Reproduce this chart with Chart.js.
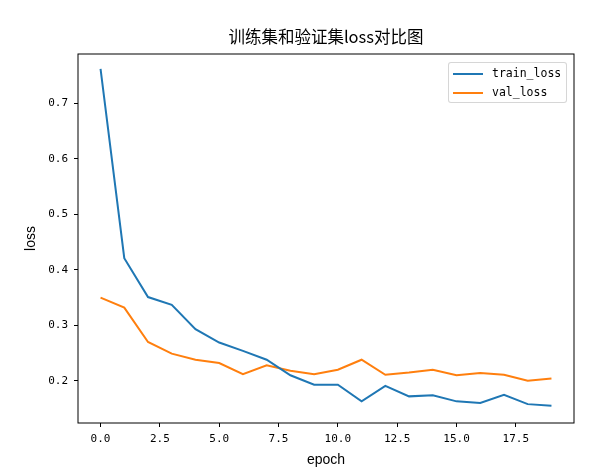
<!DOCTYPE html>
<html>
<head>
<meta charset="utf-8">
<script src="https://cdn.jsdelivr.net/npm/chart.js@4"></script>
<style>
  body { margin: 0; background: #fff; }
  #wrap { position: relative; width: 602px; height: 469px; }
  #legend {
    position: absolute; left: 448px; top: 62px; width: 117px; height: 39px;
    border: 1px solid rgba(204,204,204,0.8); border-radius: 3px;
    background: rgba(255,255,255,0.8);
    font-family: "DejaVu Sans Mono", monospace; font-size: 11.5px; color: #000;
  }
  .item { position: absolute; left: 4px; height: 19px; line-height: 19px; white-space: nowrap; }
  .item span.swatch { position: absolute; left: 0; top: 9px; width: 30px; height: 2px; }
  .item span.label { position: absolute; left: 39px; top: 0; }
</style>
</head>
<body>
<div id="wrap">
  <canvas id="grafico" width="602" height="469"></canvas>
  <div id="legend"></div>
</div>
<script>
// ========================
// DADOS
// ========================

const epochs = [0, 1, 2, 3, 4, 5, 6, 7, 8, 9, 10, 11, 12, 13, 14, 15, 16, 17, 18, 19];

const trainLoss = [0.762, 0.421, 0.351, 0.337, 0.293, 0.269, 0.254, 0.238, 0.210, 0.193,
  0.193, 0.163, 0.191, 0.172, 0.174, 0.163, 0.160, 0.175, 0.158, 0.155];

const valLoss = [0.350, 0.332, 0.270, 0.249, 0.238, 0.232, 0.212, 0.228, 0.218, 0.212,
  0.220, 0.238, 0.211, 0.215, 0.220, 0.210, 0.214, 0.211, 0.200, 0.204];

const xTicks = [0, 2.5, 5, 7.5, 10, 12.5, 15, 17.5];
const yTicks = [0.2, 0.3, 0.4, 0.5, 0.6, 0.7];

const seriesNames = ["train_loss", "val_loss"];
const seriesColors = ["#1f77b4", "#ff7f0e"];

const titulo = "训练集和验证集loss对比图";

// ========================
// PLUGINS
// ========================

const moldura = {
  id: "moldura",
  afterDraw(chart) {
    const { ctx, chartArea } = chart;
    ctx.save();
    ctx.strokeStyle = "#000";
    ctx.lineWidth = 1;
    ctx.strokeRect(chartArea.left, chartArea.top,
      chartArea.right - chartArea.left, chartArea.bottom - chartArea.top);
    ctx.restore();
  },
};

const tituloPlugin = {
  id: "tituloPlugin",
  afterDraw(chart) {
    const { ctx, chartArea } = chart;
    ctx.save();
    ctx.fillStyle = "#000";
    ctx.font = '16.5px "Noto Sans CJK SC", sans-serif';
    ctx.textAlign = "center";
    ctx.textBaseline = "middle";
    ctx.fillText(titulo, (chartArea.left + chartArea.right) / 2, 37);
    ctx.restore();
  },
};

// ========================
// GRÁFICO
// ========================

const tickFont = { family: "DejaVu Sans Mono", size: 11 };

new Chart(document.getElementById("grafico"), {
  type: "line",
  data: {
    datasets: [trainLoss, valLoss].map((serie, i) => ({
      label: seriesNames[i],
      data: epochs.map((e, j) => ({ x: e, y: serie[j] })),
      borderColor: seriesColors[i],
      backgroundColor: seriesColors[i],
      borderWidth: 2,
      pointRadius: 0,
      tension: 0,
    })),
  },
  options: {
    responsive: false,
    animation: false,
    layout: { padding: { top: 54, right: 28, left: 0, bottom: 0 } },
    plugins: {
      legend: { display: false },
      tooltip: { enabled: false },
    },
    scales: {
      x: {
        type: "linear",
        min: -0.95,
        max: 19.95,
        afterFit: (s) => { s.height = 46; },
        afterBuildTicks: (s) => { s.ticks = xTicks.map((v) => ({ value: v })); },
        ticks: {
          color: "#000",
          font: tickFont,
          padding: 6,
          maxRotation: 0,
          callback: (v) => v.toFixed(1),
        },
        grid: { drawOnChartArea: false, color: "#000", tickLength: 4 },
        border: { display: false },
        title: {
          display: true,
          text: "epoch",
          color: "#000",
          font: { family: "Liberation Sans", size: 14 },
          padding: { top: 5, bottom: 0 },
        },
      },
      y: {
        min: 0.124,
        max: 0.789,
        afterFit: (s) => { s.width = 78; },
        afterBuildTicks: (s) => { s.ticks = yTicks.map((v) => ({ value: v })); },
        ticks: {
          color: "#000",
          font: tickFont,
          padding: 6,
          callback: (v) => v.toFixed(1),
        },
        grid: { drawOnChartArea: false, color: "#000", tickLength: 4 },
        border: { display: false },
        title: {
          display: true,
          text: "loss",
          color: "#000",
          font: { family: "Liberation Sans", size: 14 },
          padding: { top: 23, bottom: 0 },
        },
      },
    },
  },
  plugins: [moldura, tituloPlugin],
});

// ========================
// LEGENDA
// ========================

const legenda = document.getElementById("legend");
seriesNames.forEach((nome, i) => {
  legenda.innerHTML += `
    <div class="item" style="top:${1 + i * 19}px">
      <span class="swatch" style="background:${seriesColors[i]}"></span>
      <span class="label">${nome}</span>
    </div>
  `;
});
</script>
</body>
</html>
